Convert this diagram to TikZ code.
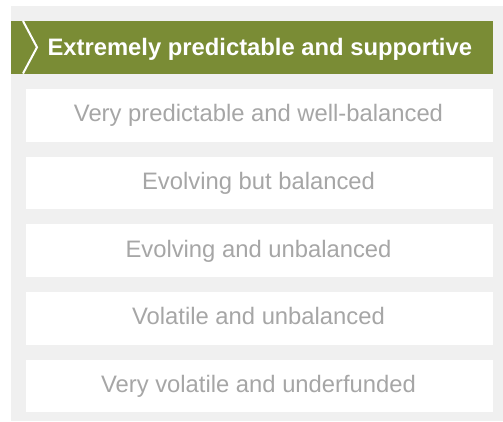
\documentclass[tikz,border=0pt]{standalone}
\usepackage{fontspec}
\setmainfont{Liberation Sans}
\definecolor{panelgray}{HTML}{F0F0F0}
\definecolor{olive}{HTML}{7A8C35}
\definecolor{labelgray}{HTML}{A6A6A6}
\tikzset{
  levelbox/.style={fill=white, draw=none, minimum width=467pt, minimum height=52.7pt,
    inner sep=0pt, text=labelgray, font=\fontsize{23.8}{28}\selectfont},
  headbar/.style={fill=olive, draw=none},
  headtext/.style={text=white, font=\bfseries\fontsize{23.8}{28}\selectfont, inner sep=0pt},
  chevron/.style={draw=white, line width=2pt, line join=miter}
}
\begin{document}
\begin{tikzpicture}[x=1pt,y=-1pt]
  \useasboundingbox (0,0) rectangle (503,421);
  % background panel
  \fill[panelgray] (11,6) rectangle (503,421);
  % highlighted top level
  \node[headbar, minimum width=482pt, minimum height=52.5pt, inner sep=0pt] (head) at (252,47.3) {};
  \coordinate (c1) at (23,21);
  \coordinate (c2) at (37,47.3);
  \coordinate (c3) at (23,73.5);
  \draw[chevron] (c1) -- (c2) -- (c3);
  \node[headtext, anchor=base west] (title) at (47.3,55) {Extremely predictable and supportive};
  % remaining levels
  \node[levelbox] (l1) at (259.5,115.3) {};
  \node[levelbox] (l2) at (259.5,183.0) {};
  \node[levelbox] (l3) at (259.5,250.7) {};
  \node[levelbox] (l4) at (259.5,318.4) {};
  \node[levelbox] (l5) at (259.5,386.1) {};
  \node[levelbox, fill=none, anchor=base] (t1) at (258.5,121.7) {Very predictable and well-balanced};
  \node[levelbox, fill=none, anchor=base] (t2) at (258.5,189.4) {Evolving but balanced};
  \node[levelbox, fill=none, anchor=base] (t3) at (258.5,257.1) {Evolving and unbalanced};
  \node[levelbox, fill=none, anchor=base] (t4) at (258.5,324.8) {Volatile and unbalanced};
  \node[levelbox, fill=none, anchor=base] (t5) at (258.5,392.5) {Very volatile and underfunded};
\end{tikzpicture}
\end{document}
